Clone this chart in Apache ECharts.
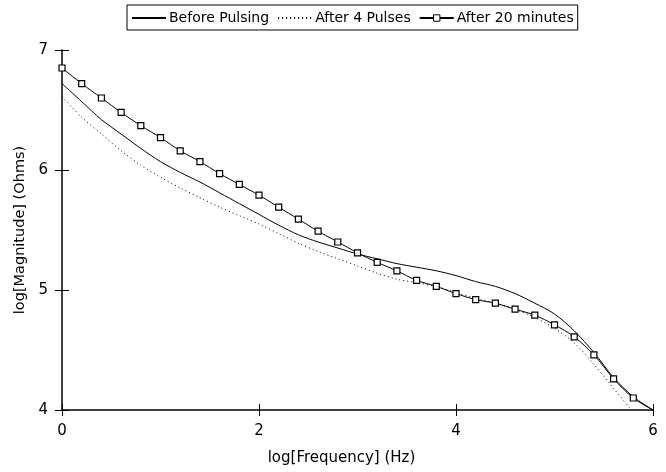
<!DOCTYPE html>
<html>
<head>
<meta charset="utf-8">
<script src="https://cdn.jsdelivr.net/npm/echarts@6/dist/echarts.min.js"></script>
<style>html,body{margin:0;padding:0;background:#fff}#c{width:666px;height:472px}</style>
</head>
<body>
<div id="c"></div>
<script>
// log[Frequency] (Hz) positions and log[Magnitude] (Ohms) values
const beforeX = [0,0.2,0.4,0.6,0.8,1.0,1.2,1.4,1.6,1.8,2.0,2.2,2.4,2.6,2.8,3.0,3.2,3.4,3.6,3.8,4.0,4.2,4.4,4.6,4.8,5.0,5.2,5.4,5.6,5.8,6.0];
const beforeY = [6.72,6.57,6.42,6.30,6.18,6.07,5.98,5.90,5.81,5.72,5.63,5.54,5.46,5.40,5.35,5.30,5.26,5.22,5.19,5.16,5.12,5.07,5.03,4.97,4.89,4.80,4.66,4.48,4.27,4.11,4.00];

const pulsesX = [0,0.2,0.4,0.6,0.8,1.0,1.2,1.4,1.6,1.8,2.0,2.2,2.4,2.6,2.8,3.0,3.2,3.4,3.6,3.8,4.0,4.2,4.4,4.6,4.8,5.0,5.2,5.4,5.6,5.78];
const pulsesY = [6.61,6.44,6.30,6.16,6.04,5.94,5.85,5.77,5.69,5.62,5.55,5.47,5.39,5.32,5.26,5.20,5.14,5.09,5.06,5.03,4.98,4.93,4.89,4.84,4.77,4.68,4.56,4.38,4.18,4.00];

const minutesX = [0,0.2,0.4,0.6,0.8,1.0,1.2,1.4,1.6,1.8,2.0,2.2,2.4,2.6,2.8,3.0,3.2,3.4,3.6,3.8,4.0,4.2,4.4,4.6,4.8,5.0,5.2,5.4,5.6,5.8,6.0];
const minutesY = [6.85,6.72,6.60,6.48,6.37,6.27,6.16,6.07,5.97,5.88,5.79,5.69,5.59,5.49,5.40,5.31,5.23,5.16,5.08,5.03,4.97,4.92,4.89,4.84,4.79,4.71,4.61,4.46,4.26,4.10,4.00];

const seriesNames = ['Before Pulsing','After 4 Pulses','After 20 minutes'];
const xTitle = 'log[Frequency] (Hz)';
const yTitle = 'log[Magnitude] (Ohms)';

const zip = (xs, ys) => xs.map((x, i) => [x, ys[i]]);
const FONT = 'DejaVu Sans';
const hidden = {color: 'rgba(0,0,0,0)', borderColor: 'rgba(0,0,0,0)', borderWidth: 0};

// the last point of the marker series ends the line without a square
const minutesData = zip(minutesX, minutesY).map((p, i) =>
  i === minutesX.length - 1 ? {value: p, symbol: 'none'} : p);

const chart = echarts.init(document.getElementById('c'), null, {renderer: 'canvas'});
const axisLine = {show: true, lineStyle: {color: '#000', width: 1.5}};
chart.setOption({
  animation: false,
  backgroundColor: '#fff',
  textStyle: {fontFamily: FONT, color: '#000'},
  grid: {left: 62, right: 13, top: 50, bottom: 62},
  legend: {
    left: 127, top: 5,
    borderColor: '#000', borderWidth: 1, borderRadius: 0,
    padding: [6, 4, 5, 4],
    itemGap: 8, itemWidth: 34, itemHeight: 8,
    textStyle: {fontFamily: FONT, fontSize: 14, color: '#000', padding: [0, 0, 0, -2]},
    data: [
      {name: seriesNames[0], itemStyle: hidden},
      {name: seriesNames[1], itemStyle: hidden},
      {name: seriesNames[2], itemStyle: {color: '#fff', borderColor: '#000', borderWidth: 1}}
    ]
  },
  xAxis: [{
    type: 'value', min: 0, max: 6, interval: 2,
    name: xTitle, nameLocation: 'middle', nameGap: 41,
    nameTextStyle: {fontFamily: FONT, fontSize: 15, color: '#000', padding: [0, 32, 0, 0]},
    axisLine: axisLine,
    axisTick: {show: true, length: 6, lineStyle: {color: '#000'}},
    axisLabel: {fontFamily: FONT, fontSize: 15, color: '#000', margin: 14},
    splitLine: {show: false}
  }, {
    type: 'value', min: 0, max: 6, interval: 2, position: 'bottom',
    axisLine: {show: false},
    axisTick: {show: true, inside: true, length: 6, lineStyle: {color: '#000'}},
    axisLabel: {show: false}, splitLine: {show: false}
  }],
  yAxis: [{
    type: 'value', min: 4, max: 7, interval: 1,
    name: yTitle, nameLocation: 'middle', nameGap: 29, nameRotate: 90,
    nameTextStyle: {fontFamily: FONT, fontSize: 14.5, color: '#000'},
    axisLine: axisLine,
    axisTick: {show: true, length: 7, lineStyle: {color: '#000'}},
    axisLabel: {fontFamily: FONT, fontSize: 15, color: '#000', margin: 14},
    splitLine: {show: false}
  }, {
    type: 'value', min: 4, max: 7, interval: 1, position: 'left',
    axisLine: {show: false},
    axisTick: {show: true, inside: true, length: 7, lineStyle: {color: '#000'}},
    axisLabel: {show: false}, splitLine: {show: false}
  }],
  series: [{
    name: seriesNames[0], type: 'line', smooth: 0.3, symbol: 'none',
    data: zip(beforeX, beforeY),
    lineStyle: {color: '#000', width: 1},
    itemStyle: {color: '#000'}
  }, {
    name: seriesNames[1], type: 'line', smooth: 0.3, symbol: 'none',
    data: zip(pulsesX, pulsesY),
    lineStyle: {color: '#000', width: 1, type: [1, 3]},
    itemStyle: {color: '#000'}
  }, {
    name: seriesNames[2], type: 'line', smooth: 0.3,
    symbol: 'rect', symbolSize: 6, showAllSymbol: true,
    data: minutesData,
    lineStyle: {color: '#000', width: 1},
    itemStyle: {color: '#fff', borderColor: '#000', borderWidth: 1.2}
  }]
});
</script>
</body>
</html>
